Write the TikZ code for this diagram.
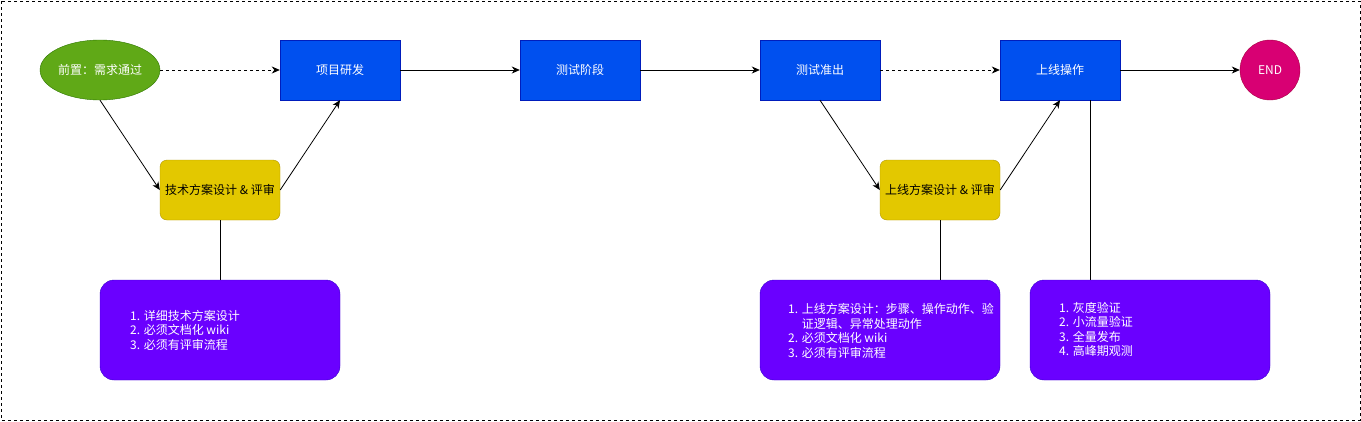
\documentclass[tikz,border=0pt]{standalone}
\usepackage{fontspec}
\setmainfont{Noto Sans CJK SC}
\usetikzlibrary{arrows.meta,shapes.geometric}
\definecolor{gfill}{HTML}{60A917}\definecolor{gline}{HTML}{2D7600}
\definecolor{bfill}{HTML}{0050EF}\definecolor{bline}{HTML}{001DBC}
\definecolor{yfill}{HTML}{E3C800}\definecolor{yline}{HTML}{B09500}
\definecolor{pfill}{HTML}{6A00FF}\definecolor{pline}{HTML}{3700CC}
\definecolor{rfill}{HTML}{D80073}\definecolor{rline}{HTML}{A50040}
\tikzset{
  lbl/.style={font=\fontsize{12}{14}\selectfont},
  bluebox/.style={lbl,draw=bline,fill=bfill,text=white,minimum width=120pt,minimum height=60pt,inner sep=0pt},
  yellowbox/.style={lbl,draw=yline,fill=yfill,text=black,rounded corners=7pt,minimum width=120pt,minimum height=60pt,inner sep=0pt},
  purplebox/.style={draw=pline,fill=pfill,rounded corners=14pt,minimum width=240pt,minimum height=100pt,inner sep=0pt},
  listtext/.style={text=white,align=left,font=\fontsize{12}{14.5}\selectfont,inner sep=0pt,anchor=west},
  arr/.style={-{Stealth[length=8pt,width=7pt,inset=2.5pt]},line width=0.8pt},
  dasharr/.style={arr,dash pattern=on 3pt off 3pt},
  plain/.style={line width=0.8pt}
}
\begin{document}
\begin{tikzpicture}[x=1pt,y=-1pt]
\useasboundingbox (0,0) rectangle (1361,421);
\draw[line width=0.8pt,dash pattern=on 3pt off 3pt] (1,1) rectangle (1360,420);
\node[ellipse,lbl,draw=gline,fill=gfill,text=white,minimum width=120pt,minimum height=60pt,inner sep=0pt] (start) at (100,70) {前置：需求通过};
\node[bluebox] (dev) at (340,70) {项目研发};
\node[bluebox] (test) at (580,70) {测试阶段};
\node[bluebox] (pass) at (820,70) {测试准出};
\node[bluebox] (online) at (1060,70) {上线操作};
\node[circle,lbl,draw=rline,fill=rfill,text=white,minimum size=60pt,inner sep=0pt] (end) at (1270,70) {END};
\node[yellowbox] (tech) at (220,190) {技术方案设计 \& 评审};
\node[yellowbox] (plan) at (940,190) {上线方案设计 \& 评审};
\node[purplebox] (p1) at (220,330) {};
\node[purplebox] (p2) at (880,330) {};
\node[purplebox] (p3) at (1150,330) {};
\node[listtext] (t1) at (130,330) {1. 详细技术方案设计\\2. 必须文档化 wiki\\3. 必须有评审流程};
\node[listtext] (t2) at (788,331) {1. 上线方案设计：步骤、操作动作、验\\\phantom{1. }证逻辑、异常处理动作\\2. 必须文档化 wiki\\3. 必须有评审流程};
\node[listtext] (t3) at (1059,329.5) {1. 灰度验证\\2. 小流量验证\\3. 全量发布\\4. 高峰期观测};
\draw[dasharr] (start.east) -- (dev.west);
\draw[arr] (dev.east) -- (test.west);
\draw[arr] (test.east) -- (pass.west);
\draw[dasharr] (pass.east) -- (online.west);
\draw[arr] (online.east) -- (end.west);
\draw[arr] (start.south) -- (tech.west);
\draw[arr] (tech.east) -- (dev.south);
\draw[arr] (pass.south) -- (plan.west);
\draw[arr] (plan.east) -- (online.south);
\draw[plain] (tech.south) -- (p1.north);
\draw[plain] (plan.south) -- (p2.north -| plan.south);
\coordinate (o3) at (1090,100);
\draw[plain] (o3) -- (o3 |- p3.north);
\end{tikzpicture}
\end{document}
